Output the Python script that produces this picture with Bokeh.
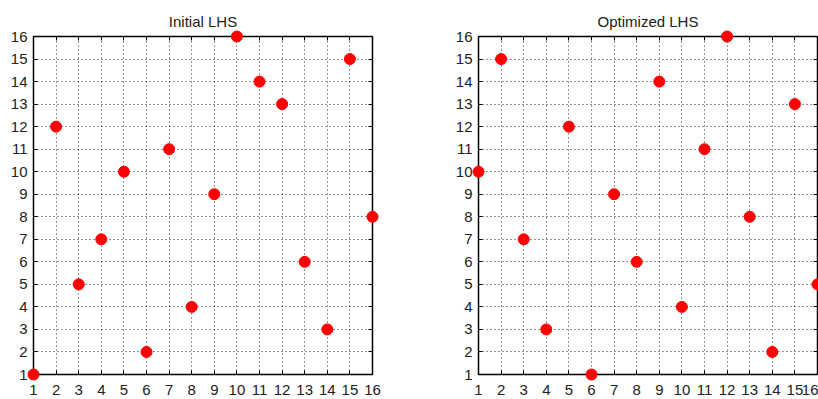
from bokeh.plotting import figure
from bokeh.layouts import row
from bokeh.models import LinearAxis, FixedTicker, Range1d, ColumnDataSource
from bokeh.embed import file_html
from bokeh.resources import INLINE

ticks = list(range(1, 17))
init_x = [1, 2, 3, 4, 5, 6, 7, 8, 9, 10, 11, 12, 13, 14, 15, 16]
init_y = [1, 12, 5, 7, 10, 2, 11, 4, 9, 16, 14, 13, 6, 3, 15, 8]
opt_x = [1, 2, 3, 4, 5, 6, 7, 8, 9, 10, 11, 12, 13, 14, 15, 16]
opt_y = [10, 15, 7, 3, 12, 1, 9, 6, 14, 4, 11, 16, 8, 2, 13, 5]

FONT = "Liberation Sans"


def style_axis(ax, standoff, show_labels=True):
    ax.ticker = FixedTicker(ticks=ticks)
    ax.major_tick_in = 4
    ax.major_tick_out = 0
    ax.minor_tick_in = 0
    ax.minor_tick_out = 0
    ax.axis_line_color = "black"
    ax.axis_line_width = 1.5
    ax.major_tick_line_color = "black"
    ax.major_label_text_font = FONT
    ax.major_label_text_font_size = "15px"
    ax.major_label_text_color = "#222222"
    ax.major_label_standoff = standoff
    if not show_labels:
        ax.major_label_text_alpha = 0
        ax.major_label_text_font_size = "1px"
        ax.major_label_standoff = 0


def make(title, xs, ys, left, right):
    p = figure(output_backend="svg", toolbar_location=None,
               frame_width=339, frame_height=338,
               min_border_left=left, min_border_right=right,
               min_border_top=36, min_border_bottom=25,
               x_range=Range1d(1, 16), y_range=Range1d(1, 16),
               title=title)
    p.title.text_font = FONT
    p.title.text_font_size = "15px"
    p.title.text_font_style = "normal"
    p.title.align = "center"
    p.title.text_color = "#222222"
    p.title.standoff = 14
    p.outline_line_color = "black"
    p.background_fill_color = "white"
    p.border_fill_color = "white"
    style_axis(p.xaxis[0], 10)
    style_axis(p.yaxis[0], 6)
    top = LinearAxis()
    style_axis(top, 0, False)
    rgt = LinearAxis()
    style_axis(rgt, 0, False)
    p.add_layout(top, "above")
    p.add_layout(rgt, "right")
    for g in (p.xgrid[0], p.ygrid[0]):
        g.ticker = FixedTicker(ticks=ticks)
        g.grid_line_color = "black"
        g.grid_line_dash = "1 3"
        g.grid_line_width = 1
        g.grid_line_alpha = 0.85
    src = ColumnDataSource(dict(x=xs, y=ys))
    p.scatter("x", "y", source=src, size=11, color="red", line_color="red",
              level="overlay")
    return p


p1 = make("Initial LHS", init_x, init_y, 33, 48)
p2 = make("Optimized LHS", opt_x, opt_y, 58, 1)
layout = row(p1, p2, spacing=0)
open("out.html", "w").write(file_html(layout, INLINE))
